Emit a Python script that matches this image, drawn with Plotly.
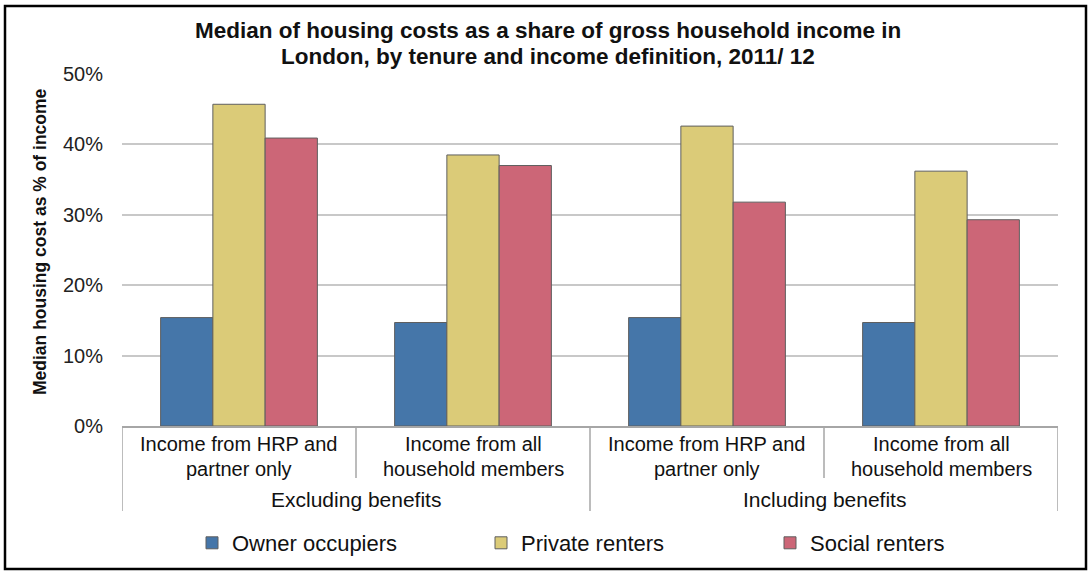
import plotly.graph_objects as go

# Income definitions (inner categories, one list per label line) and benefit groups
income_line1 = ["Income from HRP and", "Income from all", "Income from HRP and", "Income from all"]
income_line2 = ["partner only", "household members", "partner only", "household members"]
benefit_groups = ["Excluding benefits", "Including benefits"]

# Median housing cost as % of gross household income
owner_occupiers = [15.4, 14.7, 15.4, 14.7]
private_renters = [45.7, 38.5, 42.6, 36.2]
social_renters = [40.9, 37.0, 31.8, 29.3]

series = [
    ("Owner occupiers", owner_occupiers, "#4576A9"),
    ("Private renters", private_renters, "#DBCB78"),
    ("Social renters", social_renters, "#CC6677"),
]

title_lines = [
    "Median of housing costs as a share of gross household income in",
    "London, by tenure and income definition, 2011/ 12",
]

W, H = 1088, 572
L, R, T, B = 122, 30, 74, 146
PW, PH = W - L - R, H - T - B


def px_x(p):
    return (p - L) / PW


def px_y(p):
    return (H - B - p) / PH


xpos = list(range(len(income_line1)))

fig = go.Figure()
for name, vals, col in series:
    fig.add_trace(go.Bar(
        x=xpos, y=vals, name=name,
        marker=dict(color=col, line=dict(color="#5f5f5f", width=1)),
    ))

sans = "Liberation Sans, Arial, sans-serif"
ink = "#111111"

annotations = []
# chart title, one annotation per line
for txt, ypx in zip(title_lines, [30, 57]):
    annotations.append(dict(
        x=px_x(548), y=px_y(ypx), xref="paper", yref="paper",
        text="<b>" + txt + "</b>", showarrow=False,
        font=dict(family=sans, size=22.5, color=ink),
        xanchor="center", yanchor="middle",
    ))
# inner category labels
for i in xpos:
    for txt, ypx in ((income_line1[i], 444), (income_line2[i], 469)):
        annotations.append(dict(
            x=i, y=px_y(ypx), xref="x", yref="paper", text=txt, showarrow=False,
            font=dict(family=sans, size=20, color=ink),
            xanchor="center", yanchor="middle",
        ))
# outer group labels
per_group = len(income_line1) // len(benefit_groups)
for g, lab in enumerate(benefit_groups):
    annotations.append(dict(
        x=g * per_group + (per_group - 1) / 2, y=px_y(499), xref="x", yref="paper",
        text=lab, showarrow=False, font=dict(family=sans, size=21, color=ink),
        xanchor="center", yanchor="middle",
    ))
# y-axis title
annotations.append(dict(
    x=px_x(40), y=px_y(242), xref="paper", yref="paper",
    text="<b>Median housing cost as % of income</b>", textangle=-90, showarrow=False,
    font=dict(family=sans, size=17.5, color=ink),
    xanchor="center", yanchor="middle",
))

shapes = []
# dividers below the category axis
for k in range(len(income_line1) + 1):
    outer = k % per_group == 0
    y1 = px_y(511) if outer else px_y(478)
    shapes.append(dict(
        type="line", xref="x", yref="paper", x0=k - 0.5, x1=k - 0.5,
        y0=0, y1=y1, line=dict(color="#a6a6a6", width=1.5),
    ))
# outer frame
shapes.append(dict(
    type="rect", xref="paper", yref="paper",
    x0=px_x(5), x1=px_x(1086), y0=px_y(569), y1=px_y(6),
    line=dict(color="#000000", width=2.5), fillcolor="rgba(0,0,0,0)",
))

fig.update_layout(
    width=W, height=H,
    margin=dict(l=L, r=R, t=T, b=B, pad=0, autoexpand=False),
    paper_bgcolor="white", plot_bgcolor="white",
    barmode="group", bargap=0.33, bargroupgap=0,
    xaxis=dict(
        range=[-0.5, len(income_line1) - 0.5], showticklabels=False, ticks="",
        showgrid=False, showline=True, linecolor="#a6a6a6", linewidth=1.5,
        zeroline=False, fixedrange=True,
    ),
    yaxis=dict(
        range=[0, 50], dtick=10, ticksuffix="%", showgrid=True,
        gridcolor="#c8c8c8", gridwidth=1.5, zeroline=False, showline=False,
        ticks="", ticklabelstandoff=18,
        tickfont=dict(family=sans, size=20, color="#222222"),
    ),
    legend=dict(
        orientation="h", x=px_x(192), xanchor="left", y=px_y(543), yanchor="middle",
        font=dict(family=sans, size=22, color=ink), bgcolor="rgba(0,0,0,0)",
        entrywidth=244, itemwidth=30, traceorder="normal",
    ),
    showlegend=True,
    annotations=annotations, shapes=shapes,
)

fig.write_html("out.html")
